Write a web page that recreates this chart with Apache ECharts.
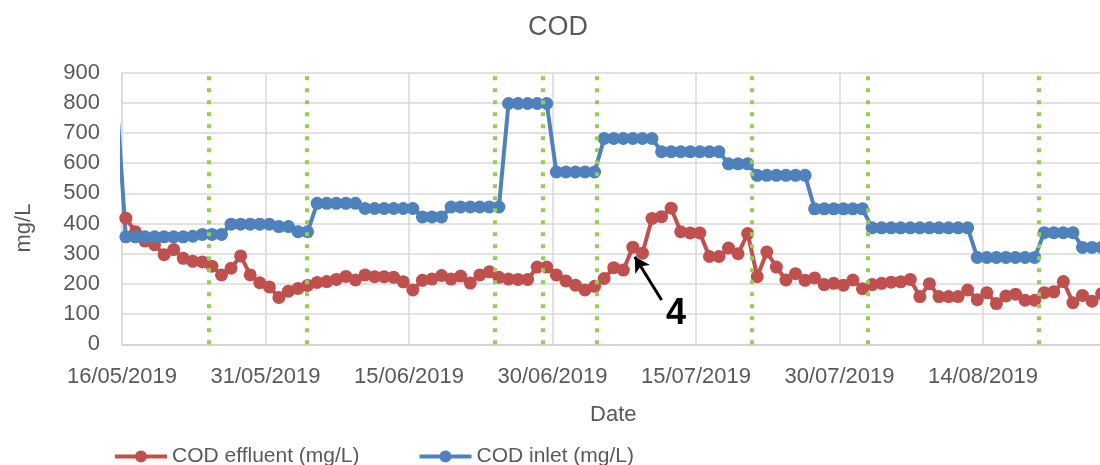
<!DOCTYPE html>
<html>
<head>
<meta charset="utf-8" />
<script src="https://cdn.jsdelivr.net/npm/echarts@6/dist/echarts.min.js"></script>
<style>
  html, body, #main { width: 100%; height: 100%; margin: 0; background: #fff; }
</style>
</head>
<body>
<div id="main"></div>
<script>
  // x axis is "days since 16/05/2019", one label every 15 days
  var tickLabels = ['16/05/2019', '31/05/2019', '15/06/2019', '30/06/2019',
    '15/07/2019', '30/07/2019', '14/08/2019'];
  var dayStep = 15;
  // axis runs to 29/08, the picture is cut off a bit before that
  var lastDay = 105;
  // excel puts each daily point a bit after its tick
  var slotOffset = 0.4;

  // COD effluent, one value per day from 16/05/2019
  var effluent = [
    418, 373, 342, 330, 297, 314, 285, 275, 273, 259,
    230, 252, 293, 230, 204, 190, 155, 176, 185, 195,
    205, 208, 215, 225, 213, 230, 224, 224, 222, 207,
    180, 212, 216, 228, 216, 226, 203, 230, 240, 222,
    216, 215, 215, 256, 256, 230, 210, 196, 180, 192,
    218, 254, 246, 322, 302, 417, 423, 451, 373, 369,
    369, 291, 291, 319, 300, 367, 224, 306, 256, 213,
    234, 212, 220, 198, 202, 196, 213, 184, 198, 202,
    206, 207, 215, 158, 201, 158, 158, 158, 180, 148,
    171, 135, 160, 166, 146, 146, 171, 174, 208, 138,
    162, 143, 168
  ];

  // COD inlet, starts one day before the axis (that point is cut off)
  var inletFirstDay = -1;
  var inlet = [
    830,
    356, 356, 356, 356, 356, 356, 356, 358, 364, 364,
    364, 398, 398, 398, 398, 398, 390, 390, 373, 373,
    467, 467, 467, 467, 467, 450, 450, 450, 450, 450,
    450, 422, 422, 422, 455, 455, 455, 455, 455, 455,
    798, 798, 798, 798, 798, 571, 571, 571, 571, 571,
    682, 682, 682, 682, 682, 682, 638, 638, 638, 638,
    638, 638, 638, 598, 598, 598, 560, 560, 560, 560,
    560, 560, 449, 449, 449, 449, 449, 449, 386, 386,
    386, 386, 386, 386, 386, 386, 386, 386, 386, 288,
    288, 288, 288, 288, 288, 288, 370, 370, 370, 370,
    321, 321, 321
  ];

  // dotted green markers (in days)
  var phaseDays = [9.1, 19.3, 39, 44, 49.6, 65.8, 78, 95.8];

  // the "4" note and its arrow, in [day, mg/L]
  var noteText = '4';
  var notePos = [57.9, 100];
  var arrowFrom = [56.4, 147];
  var arrowTo = [53.6, 290];

  var font = 'Liberation Sans';
  var grey = '#595959';

  function toPoints(values, firstDay) {
    return values.map(function (v, i) {
      return [firstDay + i + slotOffset, v];
    });
  }

  var chart = echarts.init(document.getElementById('main'));

  var option = {
    animation: false,
    backgroundColor: '#fff',
    title: {
      text: 'COD',
      left: 523,
      top: 9,
      textStyle: { fontFamily: font, fontSize: 27, fontWeight: 'normal', color: grey }
    },
    legend: {
      left: 108,
      top: 441,
      itemWidth: 52,
      itemHeight: 15,
      itemGap: 58,
      lineStyle: { width: 4 },
      textStyle: { fontFamily: font, fontSize: 21, color: grey },
      data: ['COD effluent (mg/L)', 'COD inlet (mg/L)']
    },
    grid: {
      left: 122, right: -26.5, top: 72.7, bottom: 120.7,
      outerBoundsMode: 'none'
    },
    xAxis: {
      type: 'value',
      min: 0,
      max: lastDay,
      interval: dayStep,
      name: 'Date',
      nameLocation: 'middle',
      nameGap: 60,
      nameTextStyle: { fontFamily: font, fontSize: 22, color: grey, padding: [0, 22, 0, 0] },
      axisLine: { lineStyle: { color: '#d0d0d0', width: 1.5 } },
      axisTick: { show: false },
      axisLabel: {
        margin: 22,
        fontFamily: font,
        fontSize: 22,
        color: grey,
        formatter: function (v) {
          return tickLabels[Math.round(v / dayStep)] || '';
        }
      },
      splitLine: { show: true, lineStyle: { color: '#d9d9d9', width: 1.5 } }
    },
    yAxis: {
      type: 'value',
      min: 0,
      max: 900,
      interval: 100,
      axisLine: { show: true, lineStyle: { color: '#d9d9d9', width: 1.5 } },
      axisTick: { show: false },
      axisLabel: { margin: 22, fontFamily: font, fontSize: 22, color: grey },
      splitLine: { lineStyle: { color: '#d9d9d9', width: 1.5 } }
    },
    graphic: [{
      type: 'text',
      x: 24,
      y: 228,
      rotation: Math.PI / 2,
      style: {
        text: 'mg/L',
        fontFamily: font,
        fontSize: 22,
        fill: grey,
        align: 'center',
        verticalAlign: 'middle'
      }
    }],
    series: [
      {
        name: 'COD effluent (mg/L)',
        type: 'line',
        data: toPoints(effluent, 0),
        symbol: 'circle',
        symbolSize: 13,
        lineStyle: { width: 4, color: '#C0504D' },
        itemStyle: { color: '#C0504D' },
        markLine: {
          silent: true,
          symbol: ['none', 'arrow'],
          symbolSize: [13, 15],
          label: { show: false },
          lineStyle: { color: '#000', width: 3, type: 'solid' },
          data: [[{ coord: arrowFrom }, { coord: arrowTo }]]
        },
        markPoint: {
          silent: true,
          symbol: 'circle',
          symbolSize: 1,
          itemStyle: { color: 'rgba(0,0,0,0)' },
          label: {
            show: true,
            position: 'inside',
            formatter: noteText,
            fontFamily: font,
            fontSize: 36,
            fontWeight: 'bold',
            color: '#000'
          },
          data: [{ coord: notePos }]
        }
      },
      {
        name: 'COD inlet (mg/L)',
        type: 'line',
        data: toPoints(inlet, inletFirstDay),
        symbol: 'circle',
        symbolSize: 13,
        lineStyle: { width: 4, color: '#4F81BD' },
        itemStyle: { color: '#4F81BD' },
        markLine: {
          silent: true,
          symbol: ['none', 'none'],
          label: { show: false },
          lineStyle: { color: '#92D050', width: 4, type: [4, 8] },
          data: phaseDays.map(function (d) { return { xAxis: d }; })
        }
      }
    ]
  };

  chart.setOption(option);

  window.onresize = function () {
    chart.resize();
  };
</script>
</body>
</html>
